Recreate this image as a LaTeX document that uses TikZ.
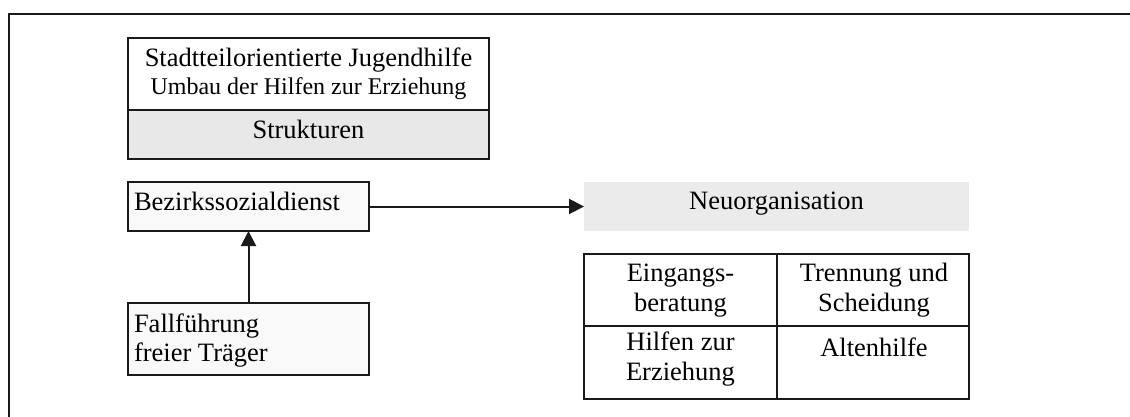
\documentclass[tikz,border=0pt]{standalone}
\usepackage{fontspec}
\setmainfont{Liberation Serif}
\usetikzlibrary{arrows.meta}
\definecolor{boxgray}{HTML}{E8E8E8}
\definecolor{neugray}{HTML}{EBEBEB}
\definecolor{lightfill}{HTML}{F8F9F8}
\definecolor{linec}{HTML}{1A1A1A}
\tikzset{
  box/.style={draw=linec, line width=2pt, inner sep=0pt, outer sep=0pt, anchor=north west, rectangle},
  cell/.style={draw=linec, line width=2.4pt, inner sep=0pt, outer sep=0pt, anchor=north west, rectangle},
  txt/.style={inner sep=0pt, outer sep=0pt, font=\fontsize{26.5}{28.3}\selectfont},
  smalltxt/.style={inner sep=0pt, outer sep=0pt, font=\fontsize{24}{28}\selectfont},
  conn/.style={draw=linec, line width=2pt, -{Triangle[length=15pt,width=15pt]}},
  frameline/.style={draw=linec, line width=2pt}
}
\begin{document}
\begin{tikzpicture}[x=1pt,y=-1pt]
\useasboundingbox (0,0) rectangle (1130,417);
% frame
\coordinate (fbl) at (8.6,418);
\coordinate (ftl) at (8.6,14.5);
\coordinate (ftr) at (1131,14.5);
\draw[frameline] (fbl) -- (ftl) -- (ftr);
% top box
\node[box, minimum width=361pt, minimum height=72pt] (topupper) at (128,38) {};
\node[box, fill=boxgray, minimum width=361pt, minimum height=49pt] (toplower) at (128,110) {};
\node[txt, anchor=base] (t1) at (308.5,66.7) {Stadtteilorientierte Jugendhilfe};
\node[smalltxt, anchor=base] (t2) at (308.5,95) {Umbau der Hilfen zur Erziehung};
\node[txt, anchor=base] (t3) at (308.5,139) {Strukturen};
% Bezirkssozialdienst
\node[box, fill=lightfill, minimum width=241pt, minimum height=49pt] (bez) at (128,182) {};
\node[txt, anchor=base west] (bezt) at (134,210.7) {Bezirkssozialdienst};
% Fallfuehrung
\node[box, fill=lightfill, minimum width=241pt, minimum height=72pt] (fall) at (128,303) {};
\node[txt, anchor=base west] (fallt1) at (134,332.7) {Fallführung};
\node[txt, anchor=base west] (fallt2) at (134,361) {freier Träger};
% Neuorganisation
\node[rectangle, fill=neugray, inner sep=0pt, outer sep=0pt, anchor=north west, minimum width=385pt, minimum height=49pt] (neu) at (584,182) {};
\node[txt, anchor=base] (neut) at (776.5,209.3) {Neuorganisation};
% table
\node[cell, minimum width=193pt, minimum height=72pt] (c11) at (584,254) {};
\node[cell, minimum width=192pt, minimum height=72pt] (c12) at (777,254) {};
\node[cell, minimum width=193pt, minimum height=73pt] (c21) at (584,326) {};
\node[cell, minimum width=192pt, minimum height=73pt] (c22) at (777,326) {};
\node[txt, anchor=base] (e1) at (680.5,281.7) {Eingangs-};
\node[txt, anchor=base] (e2) at (680.5,311) {beratung};
\node[txt, anchor=base] (s1) at (874,281.7) {Trennung und};
\node[txt, anchor=base] (s2) at (874,311) {Scheidung};
\node[txt, anchor=base] (h1) at (680.5,350) {Hilfen zur};
\node[txt, anchor=base] (h2) at (680.5,380) {Erziehung};
\node[txt, anchor=base] (a1) at (874,356.7) {Altenhilfe};
% connectors
\draw[conn] (fall.north) -- (bez.south);
\draw[conn] (bez.east) -- (neu.west);
\end{tikzpicture}
\end{document}
